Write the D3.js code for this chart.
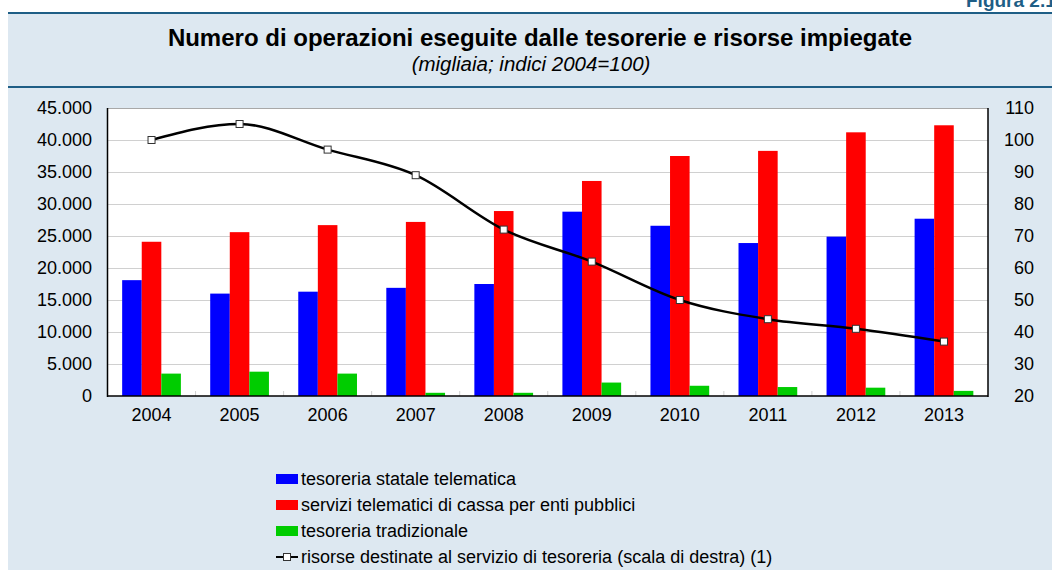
<!DOCTYPE html>
<html><head><meta charset="utf-8">
<script src="https://cdn.jsdelivr.net/npm/d3@7"></script>
<style>
html,body{margin:0;padding:0;background:#fff;}
svg{display:block;font-family:"Liberation Sans",Arial,sans-serif;}
</style></head>
<body><svg id="c" width="1052" height="570"></svg>
<script>
const years = ["2004","2005","2006","2007","2008","2009","2010","2011","2012","2013"];
const statale = [18100,16000,16300,16900,17500,28800,26600,23900,24900,27700];
const servizi = [24100,25600,26700,27200,28900,33600,37500,38300,41200,42300];
const tradizionale = [3500,3800,3500,500,500,2100,1600,1400,1300,800];
const risorse = [100,105,97,89,72,62,50,44,41,37];
const leftTicks = [0,5000,10000,15000,20000,25000,30000,35000,40000,45000];
const rightTicks = [20,30,40,50,60,70,80,90,100,110];
const seriesNames = ["tesoreria statale telematica","servizi telematici di cassa per enti pubblici","tesoreria tradizionale","risorse destinate al servizio di tesoreria (scala di destra) (1)"];
const colors = ["#0000ff","#ff0000","#00cc00"];

const svg = d3.select("#c");
const loc = d3.formatLocale({decimal:",",thousands:".",grouping:[3],currency:["€",""]});
const fmt = loc.format(",");

// panel
svg.append("rect").attr("x",8).attr("y",13).attr("width",1044).attr("height",557).attr("fill","#dde8f1");
svg.append("rect").attr("x",8).attr("y",12).attr("width",1044).attr("height",2).attr("fill","#1e5e86");
svg.append("rect").attr("x",8).attr("y",86).attr("width",1044).attr("height",2).attr("fill","#1e5e86");
svg.append("text").attr("x",966).attr("y",7).attr("font-size",19).attr("font-weight","bold").attr("fill","#1e5e86").text("Figura 2.1");

svg.append("text").attr("x",540).attr("y",46).attr("text-anchor","middle").attr("font-size",24).attr("font-weight","bold").attr("fill","#000")
  .text("Numero di operazioni eseguite dalle tesorerie e risorse impiegate");
svg.append("text").attr("x",531).attr("y",71).attr("text-anchor","middle").attr("font-size",20.5).attr("font-style","italic").attr("fill","#000")
  .text("(migliaia; indici 2004=100)");

const L=107.5, R=988, T=108, B=396;
const x = d3.scaleBand().domain(years).range([L,R]).paddingInner(0).paddingOuter(0);
const bandW = x.bandwidth();
const inner = d3.scaleBand().domain([0,1,2]).range([0,bandW*0.667]);
const groupOff = (bandW - bandW*0.667)/2;
const yL = d3.scaleLinear().domain([0,45000]).range([B,T]);
const yR = d3.scaleLinear().domain([20,110]).range([B,T]);

svg.append("rect").attr("x",L).attr("y",T).attr("width",R-L).attr("height",B-T).attr("fill","#fff");
// gridlines
svg.append("g").selectAll("line").data(leftTicks.filter(d=>d>0)).join("line")
  .attr("x1",L).attr("x2",R).attr("y1",d=>Math.round(yL(d))+0.5).attr("y2",d=>Math.round(yL(d))+0.5)
  .attr("stroke","#d0d0d0").attr("stroke-width",1);
// category tick marks
svg.append("g").selectAll("line").data(years.slice(1)).join("line")
  .attr("x1",d=>x(d)).attr("x2",d=>x(d)).attr("y1",B-5).attr("y2",B)
  .attr("stroke","#d0d0d0");

// bars
const seriesData = [statale, servizi, tradizionale];
seriesData.forEach((arr,si)=>{
  svg.append("g").selectAll("rect").data(arr).join("rect")
    .attr("x",(d,i)=>x(years[i])+groupOff+inner(si))
    .attr("width",inner.bandwidth())
    .attr("y",d=>yL(d)).attr("height",d=>B-yL(d))
    .attr("fill",colors[si]);
});

// top border
svg.append("line").attr("x1",L).attr("x2",R).attr("y1",T+0.5).attr("y2",T+0.5).attr("stroke","#a8a8a8");
// axes lines
svg.append("line").attr("x1",L).attr("x2",L).attr("y1",T).attr("y2",B+1).attr("stroke","#000").attr("stroke-width",1.5);
svg.append("line").attr("x1",R).attr("x2",R).attr("y1",T).attr("y2",B+1).attr("stroke","#000").attr("stroke-width",1.5);
svg.append("line").attr("x1",L).attr("x2",R).attr("y1",B).attr("y2",B).attr("stroke","#000").attr("stroke-width",1.5);

// line
const line = d3.line().x((d,i)=>x(years[i])+bandW/2).y(d=>yR(d)).curve(d3.curveMonotoneX);
svg.append("path").datum(risorse).attr("d",line).attr("fill","none").attr("stroke","#000").attr("stroke-width",2.5);
svg.append("g").selectAll("rect").data(risorse).join("rect")
  .attr("x",(d,i)=>x(years[i])+bandW/2-3.5).attr("y",d=>yR(d)-3.5).attr("width",7).attr("height",7)
  .attr("fill","#fff").attr("stroke","#333").attr("stroke-width",1);

// axis labels
const lab = svg.append("g").attr("font-size",18).attr("fill","#000");
lab.selectAll("text.l").data(leftTicks).join("text").attr("class","l")
  .attr("x",92).attr("y",d=>yL(d)+6).attr("text-anchor","end").text(d=>fmt(d));
lab.selectAll("text.r").data(rightTicks).join("text").attr("class","r")
  .attr("x",1034).attr("y",d=>yR(d)+6).attr("text-anchor","end").text(d=>d);
lab.selectAll("text.x").data(years).join("text").attr("class","x")
  .attr("x",d=>x(d)+bandW/2).attr("y",421).attr("text-anchor","middle").text(d=>d);

// legend
const lg = svg.append("g");
seriesNames.forEach((n,i)=>{
  const cy = 479 + i*26;
  if(i<3){
    lg.append("rect").attr("x",276).attr("y",cy-5).attr("width",22).attr("height",10).attr("fill",colors[i]);
  } else {
    lg.append("line").attr("x1",276).attr("x2",298).attr("y1",cy).attr("y2",cy).attr("stroke","#000").attr("stroke-width",2);
    lg.append("rect").attr("x",283.5).attr("y",cy-3.5).attr("width",7).attr("height",7).attr("fill","#fff").attr("stroke","#333");
  }
  lg.append("text").attr("x",301).attr("y",cy+6).attr("font-size",18).attr("fill","#000").text(n);
});
</script></body></html>
